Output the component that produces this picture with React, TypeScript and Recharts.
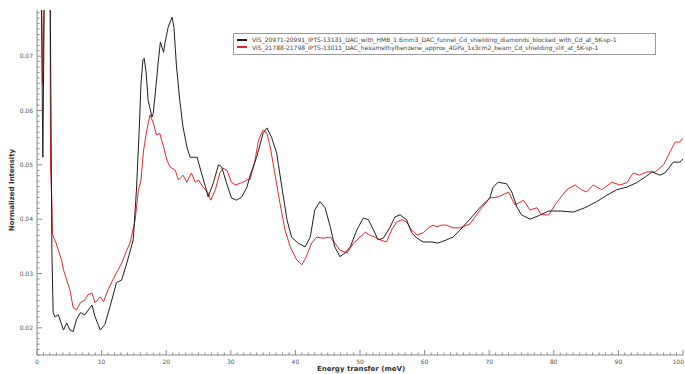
import { LineChart, Line, XAxis, YAxis } from 'recharts';

// Energy transfer (meV) and normalized intensity
const hmbBlockedEnergy = [
  0, 0.6, 0.9, 1.2, 2.0, 2.3, 2.5, 2.8, 3.3, 4.1, 4.6, 5.1, 5.6, 6.1, 6.7, 7.4, 8.5, 9.0, 9.8, 10.5,
  11.3, 12.3, 13.1, 13.9, 14.9, 15.4, 15.8, 16.1, 16.4, 16.6, 16.9, 17.2, 17.8, 18.0, 18.4, 18.8, 19.1,
  19.6, 19.8, 20.3, 20.9, 21.2, 21.6, 22.1, 22.6, 23.2, 23.7, 24.3, 24.8, 25.2, 25.9, 26.5, 27.3, 28.1,
  28.6, 29.3, 30.1, 30.9, 31.7, 32.5, 33.0, 34.0, 35.0, 35.6, 36.3, 37.1, 37.9, 38.7, 39.4, 40.4, 41.5,
  42.3, 43.0, 43.8, 44.6, 45.4, 46.1, 46.9, 47.7, 48.5, 49.5, 50.5, 51.3, 52.1, 52.8, 53.6, 54.6, 55.4,
  56.2, 57.2, 58.0, 58.8, 59.8, 61.1, 62.1, 63.4, 64.4, 65.5, 67.0, 68.6, 70.1, 70.6, 71.4, 72.7, 73.5,
  74.3, 75.0, 76.3, 77.6, 79.2, 81.0, 83.0, 84.8, 86.6, 88.2, 89.7, 91.3, 92.8, 94.2, 95.2, 96.4, 97.2,
  98.5, 99.5, 100,
];
const hmbBlockedIntensity = [
  0.09, 0.09, 0.0514, 0.09, 0.09, 0.0343, 0.0228, 0.022, 0.0224, 0.0196, 0.0209, 0.0196, 0.0193, 0.0215,
  0.0228, 0.0224, 0.0242, 0.022, 0.0196, 0.0206, 0.0239, 0.0283, 0.0288, 0.0319, 0.0362, 0.0455, 0.0558,
  0.065, 0.0693, 0.0696, 0.0669, 0.0619, 0.0588, 0.0595, 0.0643, 0.0693, 0.0726, 0.0707, 0.0724, 0.0753,
  0.0772, 0.0753, 0.068, 0.0619, 0.057, 0.0533, 0.0514, 0.0514, 0.0514, 0.0496, 0.0467, 0.0441, 0.0467,
  0.05, 0.0496, 0.0468, 0.0439, 0.0435, 0.0441, 0.0459, 0.0481, 0.0514, 0.0558, 0.0568, 0.0551, 0.0522,
  0.0459, 0.0399, 0.0367, 0.0356, 0.0349, 0.0367, 0.0417, 0.0432, 0.0421, 0.0386, 0.0349, 0.0331, 0.0338,
  0.0349, 0.038, 0.0402, 0.0399, 0.038, 0.0362, 0.0365, 0.0384, 0.0404, 0.0408, 0.0399, 0.0375, 0.0365,
  0.0358, 0.0358, 0.0356, 0.0362, 0.0367, 0.038, 0.04, 0.0422, 0.0439, 0.0459, 0.0468, 0.0465, 0.045,
  0.0422, 0.0408, 0.04, 0.0406, 0.0415, 0.0415, 0.0413, 0.0421, 0.0432, 0.0444, 0.0454, 0.0459, 0.0467,
  0.0478, 0.0487, 0.0481, 0.0485, 0.0505, 0.0505, 0.0511,
];

const hmbApproxEnergy = [
  0, 0.6, 0.9, 1.2, 2.0, 2.1, 2.3, 2.4, 2.6, 2.9, 3.3, 3.8, 4.1, 4.6, 5.1, 5.6, 6.1, 6.7, 7.4, 7.9, 8.5,
  9.0, 9.8, 10.3, 11.0, 11.6, 12.3, 13.1, 13.9, 14.4, 15.2, 15.7, 16.1, 16.5, 17.0, 17.5, 18.0, 18.5,
  19.0, 19.6, 20.1, 20.6, 21.4, 21.9, 22.6, 23.2, 23.9, 24.5, 25.0, 25.7, 26.4, 26.9, 27.6, 28.3, 28.8,
  29.4, 30.1, 30.7, 31.7, 32.5, 33.0, 33.7, 34.3, 35.0, 35.6, 36.1, 36.8, 37.6, 38.4, 39.2, 40.2, 41.0,
  41.7, 42.5, 43.3, 44.3, 45.4, 46.1, 46.9, 48.0, 49.0, 50.0, 50.8, 51.5, 52.3, 53.1, 54.1, 54.9, 55.7,
  56.5, 57.2, 58.0, 58.8, 59.8, 60.6, 61.3, 61.9, 62.6, 63.4, 64.4, 65.5, 67.0, 68.6, 70.1, 71.4, 73.0,
  74.0, 75.3, 76.3, 77.4, 78.1, 79.2, 80.4, 82.0, 83.3, 84.3, 85.1, 86.1, 87.4, 89.0, 90.2, 91.3, 92.3,
  93.3, 94.4, 95.7, 97.0, 98.0, 98.8, 99.5, 100,
];
const hmbApproxIntensity = [
  0.09, 0.09, 0.065, 0.09, 0.09, 0.0496, 0.0435, 0.0375, 0.0365, 0.0358, 0.0343, 0.0325, 0.0307, 0.0288,
  0.027, 0.0237, 0.0233, 0.0246, 0.0251, 0.0261, 0.0264, 0.0246, 0.0257, 0.0248, 0.027, 0.0285, 0.0301,
  0.0319, 0.0343, 0.0356, 0.0399, 0.0454, 0.0472, 0.0527, 0.0564, 0.0592, 0.0577, 0.0555, 0.0558, 0.0533,
  0.0509, 0.0496, 0.049, 0.0472, 0.0481, 0.0468, 0.0485, 0.0468, 0.0472, 0.0459, 0.045, 0.0435, 0.0454,
  0.0485, 0.0494, 0.049, 0.0468, 0.0463, 0.0467, 0.0472, 0.0474, 0.0505, 0.0546, 0.0564, 0.0558, 0.0533,
  0.0485, 0.043, 0.038, 0.0349, 0.0325, 0.0316, 0.0331, 0.0356, 0.0367, 0.0365, 0.0367, 0.0356, 0.0343,
  0.0338, 0.0356, 0.0367, 0.0376, 0.0371, 0.0367, 0.0362, 0.0358, 0.038, 0.0395, 0.0399, 0.0395, 0.038,
  0.0371, 0.0375, 0.0384, 0.0389, 0.0386, 0.0389, 0.0389, 0.0384, 0.0384, 0.0391, 0.0417, 0.0439, 0.0441,
  0.045, 0.0426, 0.0435, 0.0417, 0.0421, 0.0408, 0.0408, 0.043, 0.0454, 0.0463, 0.0454, 0.045, 0.0463,
  0.0454, 0.0468, 0.0463, 0.0467, 0.0485, 0.0481, 0.0487, 0.0487, 0.05, 0.0524, 0.0542, 0.0542, 0.0549,
];

const seriesNames = [
  'VIS_20971-20991_IPTS-13131_DAC_with_HMB_1.6mm3_DAC_funnel_Cd_shielding_diamonds_blocked_with_Cd_at_5K-sp-1',
  'VIS_21788-21798_IPTS-13011_DAC_hexamethylbenzene_approx_4GPa_1x3cm2_beam_Cd_shielding_slit_at_5K-sp-1',
];
const seriesColors = ['#1e1e1e', '#e8262a'];

const xMajorTicks = [0, 10, 20, 30, 40, 50, 60, 70, 80, 90, 100];
const yMajorTicks = [0.02, 0.03, 0.04, 0.05, 0.06, 0.07];

// minor ticks every 1 meV / 0.001
const xTicks = Array.from({ length: 101 }, (_, i) => i);
const yTicks = Array.from({ length: 64 }, (_, i) => +(0.015 + i * 0.001).toFixed(3));

const toRows = (energy: number[], intensity: number[]) =>
  energy.map((e, i) => ({ e, v: intensity[i] }));

const blockedData = toRows(hmbBlockedEnergy, hmbBlockedIntensity);
const approxData = toRows(hmbApproxEnergy, hmbApproxIntensity);

const axisColor = '#8a8a8a';
const font = '"DejaVu Sans", sans-serif';

const BottomTick = ({ x, y, payload }: any) => {
  const major = xMajorTicks.includes(payload.value);
  // last label sits on the right edge, keep it inside the picture
  const last = payload.value === 100;
  return (
    <g>
      <line x1={x} x2={x} y1={y} y2={y - (major ? 5 : 2.5)} stroke={axisColor} />
      {major && (
        <text
          x={last ? x + 1 : x}
          y={y + 9}
          textAnchor={last ? 'end' : 'middle'}
          fontSize={6}
          fill="#555"
          fontFamily={font}
        >
          {payload.value}
        </text>
      )}
    </g>
  );
};

const TopTick = ({ x, y, payload }: any) => {
  const major = xMajorTicks.includes(payload.value);
  return <line x1={x} x2={x} y1={y} y2={y + (major ? 5 : 2.5)} stroke={axisColor} />;
};

const LeftTick = ({ x, y, payload }: any) => {
  const major = yMajorTicks.some((t) => Math.abs(t - payload.value) < 1e-6);
  return (
    <g>
      <line x1={x} x2={x + (major ? 5 : 2.5)} y1={y} y2={y} stroke={axisColor} />
      {major && (
        <text x={x - 4} y={y + 2} textAnchor="end" fontSize={6} fill="#555" fontFamily={font}>
          {payload.value.toFixed(2)}
        </text>
      )}
    </g>
  );
};

export default function App() {
  return (
    <div style={{ position: 'absolute', left: 0, top: 0, width: 685, height: 374, background: '#fff' }}>
      <LineChart width={685} height={374} margin={{ top: 10, right: 2, left: 10, bottom: 0 }}>
        <XAxis
          dataKey="e"
          type="number"
          domain={[0, 100]}
          allowDataOverflow
          ticks={xTicks}
          interval={0}
          tick={<BottomTick />}
          tickLine={false}
          tickSize={0}
          tickMargin={0}
          height={19}
          axisLine={{ stroke: axisColor }}
          label={{
            content: () => (
              <text x={361} y={371} textAnchor="middle" fontSize={7} fontWeight="bold" fill="#333" fontFamily={font}>
                Energy transfer (meV)
              </text>
            ),
          }}
        />
        <XAxis
          xAxisId="top"
          orientation="top"
          dataKey="e"
          type="number"
          domain={[0, 100]}
          allowDataOverflow
          ticks={xTicks}
          interval={0}
          tick={<TopTick />}
          tickLine={false}
          tickSize={0}
          tickMargin={0}
          height={0}
          axisLine={{ stroke: axisColor }}
        />
        <YAxis
          type="number"
          domain={[0.015, 0.0785]}
          allowDataOverflow
          ticks={yTicks}
          interval={0}
          tick={<LeftTick />}
          tickLine={false}
          tickSize={0}
          tickMargin={0}
          width={27}
          axisLine={{ stroke: axisColor }}
          label={{
            content: () => (
              <text
                x={14}
                y={190}
                transform="rotate(-90 14 190)"
                textAnchor="middle"
                fontSize={7}
                fontWeight="bold"
                fill="#333"
                fontFamily={font}
              >
                Normalized Intensity
              </text>
            ),
          }}
        />
        <Line
          data={approxData}
          dataKey="v"
          name={seriesNames[1]}
          type="linear"
          stroke={seriesColors[1]}
          strokeWidth={1}
          dot={false}
          isAnimationActive={false}
        />
        <Line
          data={blockedData}
          dataKey="v"
          name={seriesNames[0]}
          type="linear"
          stroke={seriesColors[0]}
          strokeWidth={1}
          dot={false}
          isAnimationActive={false}
        />
      </LineChart>
      <div
        style={{
          position: 'absolute',
          left: 233,
          top: 33,
          width: 421,
          height: 18,
          border: '1px solid #999',
          background: '#fff',
          fontFamily: font,
          fontSize: 6,
          color: '#444',
          lineHeight: '7px',
          padding: '2px 0 0 0',
          boxSizing: 'content-box',
        }}
      >
        {seriesNames.map((name, i) => (
          <div key={name} style={{ display: 'flex', alignItems: 'center', height: 7.5, whiteSpace: 'nowrap' }}>
            <span
              style={{
                display: 'inline-block',
                width: 10,
                height: 2,
                flexShrink: 0,
                background: seriesColors[i],
                margin: '0 5px 0 3px',
              }}
            />
            <span>{name}</span>
          </div>
        ))}
      </div>
    </div>
  );
}
